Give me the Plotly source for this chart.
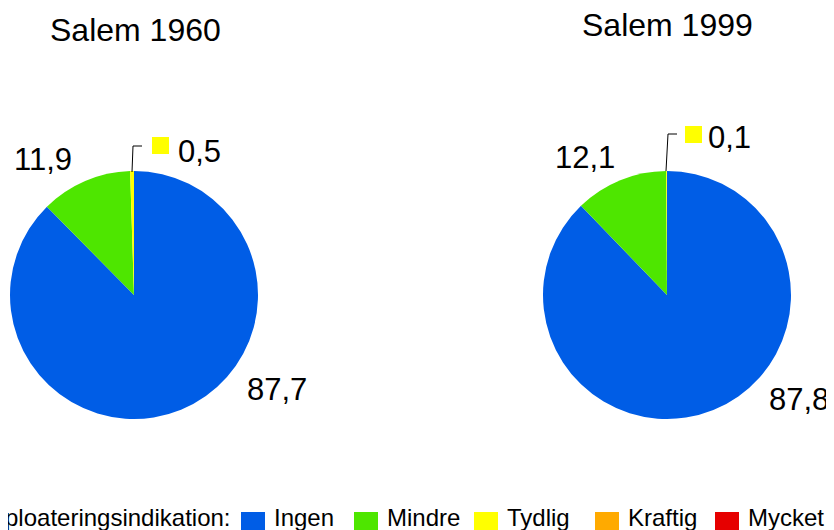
import plotly.graph_objects as go

# Exploateringsindikation, Salem
categories = ["Ingen", "Mindre", "Tydlig", "Kraftig", "Mycket kraftig"]
colors = ["#005de6", "#4ee600", "#ffff00", "#ffaa00", "#e60000"]
values_1960 = [87.7, 11.9, 0.5, 0, 0]
values_1999 = [87.8, 12.1, 0.1, 0, 0]
titles = ["Salem 1960", "Salem 1999"]
legend_title = "Exploateringsindikation:"

W, H = 834, 530
OFF = 8  # the page body margin shifts the figure by 8px
font = "Liberation Sans, Arial, sans-serif"


def fmt(v):
    return f"{v:.1f}".replace(".", ",")


def px(x, y):
    return (x - OFF) / W, 1 - (y - OFF) / H


fig = go.Figure()
for vals, dom in [(values_1960, [10, 258]), (values_1999, [543, 791])]:
    x0, y0 = px(dom[0], 419)
    x1, y1 = px(dom[1], 171)
    fig.add_trace(go.Pie(labels=categories, values=vals, sort=False, direction="clockwise",
                         rotation=0, marker=dict(colors=colors), textinfo="none",
                         hoverinfo="label+value", showlegend=False,
                         domain=dict(x=[x0, x1], y=[y0, y1])))

annotations = []
shapes = []


def add_text(x, y, text, size, xanchor="center"):
    ax, ay = px(x, y)
    annotations.append(dict(xref="paper", yref="paper", x=ax, y=ay, text=text, showarrow=False,
                            font=dict(family=font, size=size, color="black"),
                            xanchor=xanchor, yanchor="middle"))


def add_rect(x0, y0, x1, y1, color):
    a0, b0 = px(x0, y0)
    a1, b1 = px(x1, y1)
    shapes.append(dict(type="rect", xref="paper", yref="paper", x0=a0, x1=a1, y0=b1, y1=b0,
                       fillcolor=color, line=dict(width=0)))


# titles
add_text(136, 30, titles[0], 32)
add_text(667, 25, titles[1], 32)

# data labels
add_text(42.5, 160, fmt(values_1960[1]), 31)
add_text(199, 151, fmt(values_1960[2]), 31)
add_text(276.5, 389, fmt(values_1960[0]), 31)
add_text(584.5, 158, fmt(values_1999[1]), 31)
add_text(729.5, 137, fmt(values_1999[2]), 31)
add_text(799, 399, fmt(values_1999[0]), 31)

# leader lines to the small slices, with legend keys in the labels
for (x0, y0, xt, y1, x1), (kx, ky) in [((132, 172, 133, 146, 142), (152, 137)),
                                       ((666, 171, 668, 134, 677), (685, 126))]:
    a0, b0 = px(x0, y0)
    at, b1 = px(xt, y1)
    a1, _ = px(x1, y1)
    shapes.append(dict(type="path", xref="paper", yref="paper",
                       path=f"M {a0},{b0} L {at},{b1} L {a1},{b1}",
                       line=dict(color="black", width=1)))
    add_rect(kx, ky, kx + 17, ky + 17, colors[2])

# legend along the bottom
add_text(233, 517, legend_title, 24, xanchor="right")
key_x = [241, 354, 474, 595, 715]
for cat, col, kx in zip(categories, colors, key_x):
    add_rect(kx, 512, kx + 24, 536, col)
    add_text(kx + 31, 517, cat, 24, xanchor="left")

fig.update_layout(
    width=W, height=H,
    margin=dict(l=0, r=0, t=0, b=0, autoexpand=False),
    paper_bgcolor="white",
    plot_bgcolor="white",
    showlegend=False,
    annotations=annotations,
    shapes=shapes,
)

fig.write_html("out.html")
